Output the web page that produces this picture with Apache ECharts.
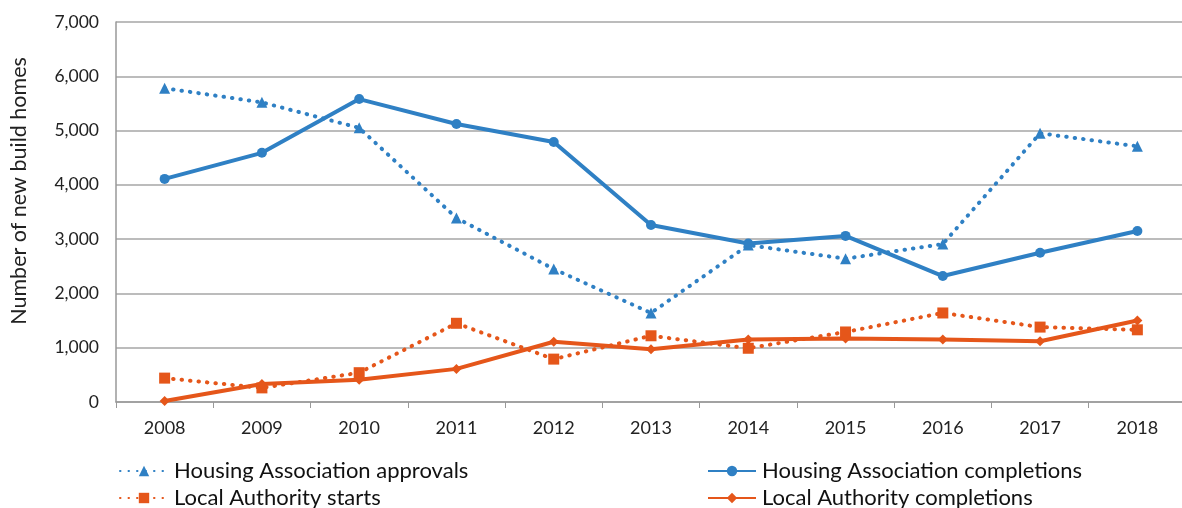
<!DOCTYPE html>
<html>
<head>
<meta charset="utf-8">
<script src="https://cdn.jsdelivr.net/npm/echarts@6/dist/echarts.min.js"></script>
<style>
  html, body { margin: 0; padding: 0; background: #fff; }
  #chart { width: 1182px; height: 508px; }
</style>
</head>
<body>
<div id="chart"></div>
<script>
const years = ["2008", "2009", "2010", "2011", "2012", "2013", "2014", "2015", "2016", "2017", "2018"];
const haApprovals = [5780, 5520, 5050, 3390, 2450, 1640, 2890, 2640, 2910, 4950, 4710];
const haCompletions = [4110, 4590, 5580, 5120, 4790, 3260, 2920, 3060, 2320, 2750, 3150];
const laStarts = [440, 260, 540, 1450, 790, 1220, 990, 1290, 1640, 1380, 1330];
const laCompletions = [20, 330, 410, 610, 1110, 970, 1150, 1170, 1150, 1120, 1500];

const blue = "#2F80C4";
const orange = "#E5561A";
const font = "Lato, 'Open Sans', sans-serif";

const chart = echarts.init(document.getElementById("chart"));

function legendAt(name, left, top) {
  return {
    data: [name],
    left: left,
    top: top,
    padding: 0,
    itemWidth: 48,
    itemHeight: 13,
    itemGap: 0,
    textStyle: { fontFamily: font, fontSize: 22, color: "#111", lineHeight: 22, padding: [0, 0, 0, 1] },
  };
}

const dotted = { type: [0.5, 8], cap: "round", width: 4 };

chart.setOption({
  animation: false,
  legend: [
    legendAt("Housing Association approvals", 119, 460),
    legendAt("Housing Association completions", 707, 460),
    legendAt("Local Authority starts", 119, 487),
    legendAt("Local Authority completions", 707, 487),
  ],
  grid: { left: 116, top: 22, width: 1070, bottom: 106, outerBoundsMode: "none" },
  xAxis: {
    type: "category",
    data: years,
    boundaryGap: true,
    axisLine: { lineStyle: { color: "#999", width: 1.5 } },
    axisTick: { show: true, length: 6, lineStyle: { color: "#999" } },
    axisLabel: { fontFamily: font, fontSize: 18, color: "#222", margin: 17 },
  },
  yAxis: {
    type: "value",
    min: 0,
    max: 7000,
    interval: 1000,
    name: "Number of new build homes",
    nameLocation: "middle",
    nameGap: 86,
    nameTextStyle: { fontFamily: font, fontSize: 21.5, color: "#222", padding: [0, 0, 0, 42] },
    axisLine: { show: true, lineStyle: { color: "#999", width: 1.5 } },
    axisTick: { show: false },
    axisLabel: {
      fontFamily: font,
      fontSize: 17.5,
      color: "#222",
      margin: 17,
      formatter: (v) => v.toLocaleString("en-US"),
    },
    splitLine: { lineStyle: { color: "#a6a6a6", width: 1.5 } },
  },
  series: [
    {
      name: "Housing Association approvals",
      type: "line",
      data: haApprovals,
      symbol: "triangle",
      symbolSize: 11,
      lineStyle: Object.assign({ color: blue }, dotted),
      itemStyle: { color: blue },
    },
    {
      name: "Housing Association completions",
      type: "line",
      data: haCompletions,
      symbol: "circle",
      symbolSize: 10,
      lineStyle: { color: blue, width: 4 },
      itemStyle: { color: blue },
    },
    {
      name: "Local Authority starts",
      type: "line",
      data: laStarts,
      symbol: "rect",
      symbolSize: 11,
      lineStyle: Object.assign({ color: orange }, dotted),
      itemStyle: { color: orange },
    },
    {
      name: "Local Authority completions",
      type: "line",
      data: laCompletions,
      symbol: "diamond",
      symbolSize: 10,
      lineStyle: { color: orange, width: 4 },
      itemStyle: { color: orange },
    },
  ],
});
</script>
</body>
</html>
